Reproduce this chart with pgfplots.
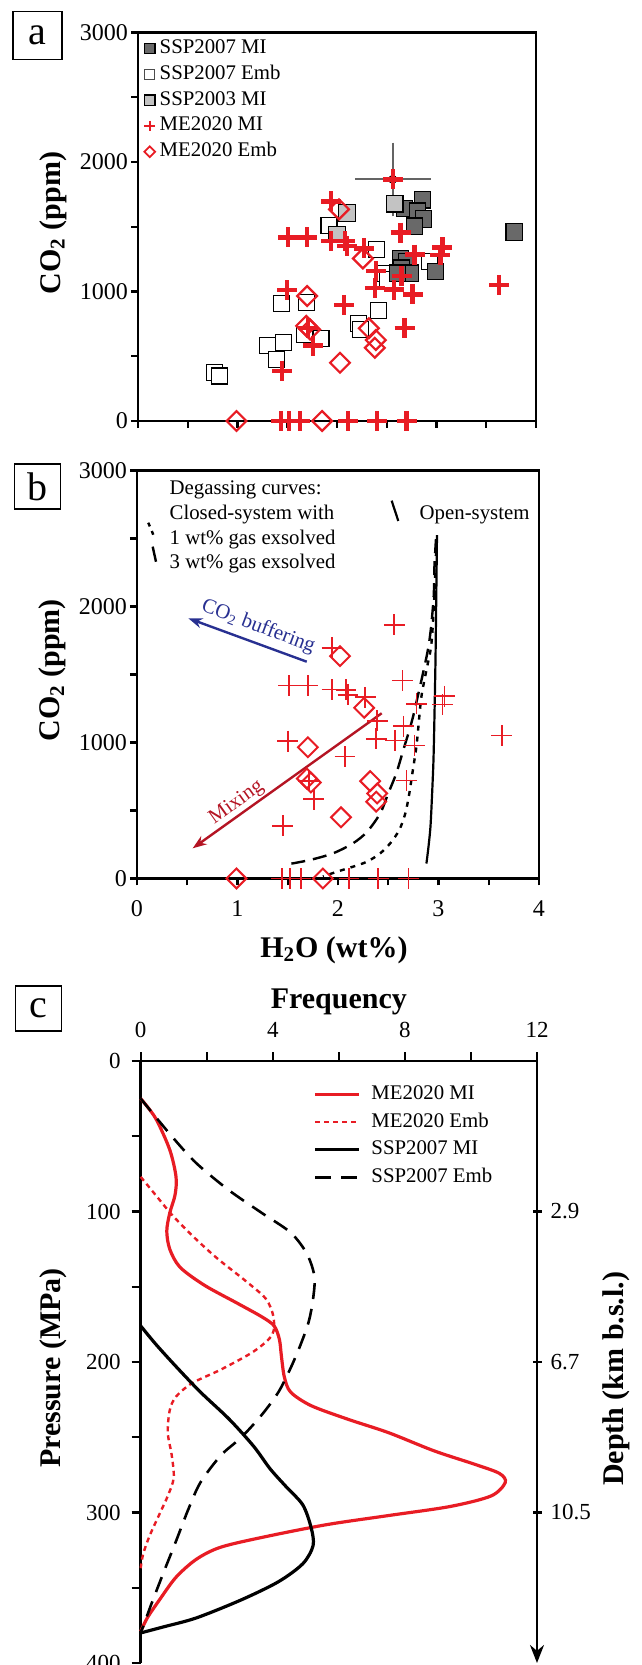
\documentclass[border=0pt]{standalone}
\usepackage{fontspec}
\setmainfont{Liberation Serif}
\usepackage{pgfplots}
\pgfplotsset{compat=1.18}
\usetikzlibrary{arrows.meta}
\definecolor{mred}{RGB}{232,28,36}
\definecolor{navyb}{RGB}{40,48,145}
\definecolor{darkr}{RGB}{180,20,35}
\definecolor{dgray}{RGB}{105,105,105}
\definecolor{lgray}{RGB}{195,195,195}
\definecolor{errgray}{RGB}{100,100,100}

\pgfplotstableread{
x y
2.56 1866
1.94 1696
1.51 1418
1.70 1418
1.94 1390
2.08 1388
2.10 1350
2.27 1333
2.64 1455
2.78 1285
3.06 1340
3.04 1280
2.39 1160
2.65 1120
2.38 1027
2.57 1015
2.76 977
1.50 1010
2.07 897
3.63 1052
2.68 720
1.71 718
1.76 583
1.45 388
1.44 0
1.52 0
1.63 0
2.11 0
2.40 0
2.70 0
}\memi

\pgfplotstableread{
x y
2.02 1635
2.26 1255
1.70 965
1.69 735
1.73 706
2.32 716
2.39 625
2.38 565
2.03 450
0.99 0
1.85 0
}\meemb

\pgfplotstableread{
x y
2.86 1709
2.68 1640
2.81 1620
2.87 1560
2.78 1505
3.78 1459
2.64 1255
2.70 1230
2.65 1180
2.74 1141
2.61 1141
2.99 1155
}\sspmi

\pgfplotstableread{
x y
1.92 1508
2.40 1322
2.93 1232
2.49 1142
2.51 1095
1.44 910
1.69 915
2.42 851
2.22 755
2.24 709
1.67 665
1.84 639
1.30 580
1.46 606
1.39 477
0.77 374
0.82 348
}\sspemb

\pgfplotstableread{
x y
2.58 1678
2.10 1606
2.00 1440
}\sspthree

\pgfplotsset{
  base/.style={scale only axis, anchor=south west, tick align=outside,
    axis line style={line width=1.2pt},
    every tick/.style={black, line width=1.1pt},
    major tick length=3.5pt,
    tick label style={font=\fontsize{12}{12}\selectfont},
    label style={font=\bfseries\fontsize{15}{15}\selectfont},
    clip=false},
}

\begin{document}
\begin{tikzpicture}[x=1pt,y=1pt]
\path[use as bounding box] (0,0) rectangle (321,832.5);

% panel labels
\node[draw, line width=0.7pt, minimum width=24.5pt, minimum height=24pt, inner sep=0pt, font=\fontsize{20}{20}\selectfont] at (18.75,814.75) {a};
\node[draw, line width=0.7pt, minimum width=23pt, minimum height=22.5pt, inner sep=0pt, font=\fontsize{20}{20}\selectfont] at (18.75,589.25) {b};
\node[draw, line width=0.7pt, minimum width=23pt, minimum height=22.5pt, inner sep=0pt, font=\fontsize{20}{20}\selectfont] at (19.35,328.25) {c};

% ---------------- panel a
\begin{axis}[base, at={(69pt,622pt)}, width=199pt, height=194.2pt,
  xmin=0, xmax=4, ymin=0, ymax=3000,
  xtick={0,0.5,...,4}, xticklabels={,,,,,,,,},
  ytick={0,500,...,3000}, yticklabels={0,,1000,,2000,,3000},
  tick pos=left, yticklabel style={xshift=2pt},
  ylabel={CO\textsubscript{2} (ppm)},
  ylabel style={at={(axis description cs:-0.2136,0.51)}, anchor=center},
  legend style={at={(0.0149,0.9856)}, anchor=north west, draw=none, fill=none,
    inner sep=0pt, row sep=2.9pt, font=\fontsize{10.4}{12}\selectfont,
    nodes={inner sep=0pt, text height=7.5pt, text depth=2.5pt},
    /tikz/every odd column/.style={column sep=2.3pt}},
  legend cell align=left]
\addplot[forget plot, only marks, mark=none,
  error bars/.cd, x dir=both, x explicit, y dir=both, y explicit,
  error bar style={color=errgray, line width=1pt},
  error mark options={errgray, mark size=4pt, line width=1pt}]
  coordinates {(2.56,1866) +- (0.30,223)};
\addplot[forget plot, only marks, mark=square*, mark size=4pt, mark options={fill=white, draw=black, line width=0.6pt}] table {\sspemb};
\addplot[forget plot, only marks, mark=square*, mark size=4.1pt, mark options={fill=dgray, draw=black, line width=0.6pt}] table {\sspmi};
\addplot[forget plot, only marks, mark=square*, mark size=4.1pt, mark options={fill=lgray, draw=black, line width=0.6pt}] table {\sspthree};
\addplot[forget plot, only marks, mark=square, mark size=3.5pt, mark options={draw=mred, line width=1.1pt, rotate=45}] table {\meemb};
\addplot[forget plot, only marks, mark=+, mark size=5pt, mark options={draw=mred, line width=2.2pt}] table {\memi};
\addlegendimage{only marks, mark=square*, mark size=2.6pt, mark options={fill=dgray, draw=black, line width=0.6pt}}
\addlegendentry{SSP2007 MI}
\addlegendimage{only marks, mark=square*, mark size=2.4pt, mark options={fill=white, draw=black!70, line width=0.5pt}}
\addlegendentry{SSP2007 Emb}
\addlegendimage{only marks, mark=square*, mark size=2.6pt, mark options={fill=lgray, draw=black, line width=0.6pt}}
\addlegendentry{SSP2003 MI}
\addlegendimage{only marks, mark=+, mark size=2.7pt, mark options={draw=mred, line width=1pt}}
\addlegendentry{ME2020 MI}
\addlegendimage{only marks, mark=square, mark size=1.9pt, mark options={draw=mred, line width=0.9pt, rotate=45}}
\addlegendentry{ME2020 Emb}
\end{axis}

% ---------------- panel b
\begin{axis}[base, at={(68.5pt,393.25pt)}, width=201pt, height=204pt,
  xmin=0, xmax=4, ymin=0, ymax=3000,
  xtick={0,0.5,...,4}, xticklabels={0,,1,,2,,3,,4},
  ytick={0,500,...,3000}, yticklabels={0,,1000,,2000,,3000},
  tick pos=left, yticklabel style={xshift=2pt}, xticklabel style={yshift=-4pt},
  ylabel={CO\textsubscript{2} (ppm)},
  ylabel style={at={(axis description cs:-0.2100,0.51)}, anchor=center},
  xlabel={H\textsubscript{2}O (wt\%)},
  xlabel style={at={(axis description cs:0.49,-0.175)}, anchor=center}]
% degassing curves
\addplot[black, line width=1.1pt, smooth] coordinates {(2.985,2525) (2.98,2200) (2.975,1900) (2.97,1600) (2.96,1200) (2.95,870) (2.935,600) (2.92,380) (2.90,230) (2.88,110)};
\addplot[black, line width=1.2pt, smooth, dash pattern=on 2.5pt off 3pt] coordinates {(2.98,2490) (2.96,2100) (2.93,1729) (2.88,1533) (2.83,1337) (2.80,1116) (2.78,969) (2.74,773) (2.71,626) (2.67,479) (2.61,357) (2.52,259) (2.42,185) (2.29,124) (2.15,87) (1.99,50) (1.85,15)};
\addplot[black, line width=1.2pt, smooth, dash pattern=on 7pt off 4pt] coordinates {(2.975,2495) (2.96,2300) (2.95,2048) (2.90,1704) (2.77,1263) (2.72,1116) (2.65,945) (2.58,773) (2.50,626) (2.42,479) (2.29,344) (2.15,259) (1.95,185) (1.72,136) (1.46,99)};
% legend samples
\addplot[black, line width=1.1pt] coordinates {(2.534,2778) (2.600,2629)};
\addplot[black, line width=1.2pt, dash pattern=on 2pt off 2.5pt] coordinates {(0.112,2616) (0.145,2560) (0.179,2494)};
\addplot[black, line width=1.2pt] coordinates {(0.156,2440) (0.189,2329)};
% arrows
\addplot[navyb, line width=1.2pt, -{Stealth[length=7pt,width=5pt]}] coordinates {(1.689,1594) (0.511,1913)};
\addplot[darkr, line width=1.2pt, -{Stealth[length=7pt,width=5pt]}] coordinates {(2.435,1215) (0.554,222)};
% data
\addplot[only marks, mark=square, mark size=3.5pt, mark options={draw=mred, line width=1pt, rotate=45}] table {\meemb};
\addplot[only marks, mark=+, mark size=5.2pt, mark options={draw=mred, line width=0.8pt}] table {\memi};
% texts
\begin{scope}[every node/.style={font=\fontsize{10.4}{12}\selectfont, inner sep=0pt}]
\node[anchor=base west] at (axis cs:0.321,2820) {Degassing curves:};
\node[anchor=base west] at (axis cs:0.321,2641) {Closed-system with};
\node[anchor=base west] at (axis cs:0.321,2457) {1 wt\% gas exsolved};
\node[anchor=base west] at (axis cs:0.321,2276) {3 wt\% gas exsolved};
\node[anchor=base west] at (axis cs:2.809,2641) {Open-system};
\node[text=navyb, rotate=-20.5] at (axis cs:1.207,1851) {CO\textsubscript{2} buffering};
\node[text=darkr, rotate=35.5] at (axis cs:0.992,557) {Mixing};
\end{scope}
\end{axis}

% ---------------- panel c
\begin{axis}[base, at={(70.35pt,1pt)}, width=198.15pt, height=301pt,
  xmin=0, xmax=12, ymin=0, ymax=400, y dir=reverse,
  axis x line*=top, axis y line*=left,
  major tick length=4.5pt,
  tick label style={font=\fontsize{11.5}{11.5}\selectfont},
  xtick={0,2,...,12}, xticklabels={0,,4,,8,,12},
  ytick={0,50,...,400}, yticklabels={0,,100,,200,,300,,400},
  xticklabel style={yshift=3.5pt}, yticklabel style={xshift=-2pt},
  xlabel={Frequency},
  xlabel style={at={(axis description cs:0.5,1.098)}, anchor=center},
  ylabel={Pressure (MPa)},
  ylabel style={at={(axis description cs:-0.2213,0.49)}, anchor=center},
  legend image code/.code={\draw[#1] (0pt,0pt) -- (21.7pt,0pt);},
  legend style={at={(0.436,0.9618)}, anchor=north west, draw=none, fill=none,
    inner sep=0pt, row sep=3.8pt, font=\fontsize{10.4}{12}\selectfont,
    nodes={inner sep=0pt, text height=7.5pt, text depth=2.5pt},
    /tikz/every odd column/.style={column sep=5.5pt}},
  legend cell align=left]
\addplot[mred, line width=1.6pt, smooth, tension=0.5] coordinates {(0,25) (0.45,38) (0.88,59) (1.07,77) (1.04,89) (0.88,101) (0.79,113) (0.88,125) (1.19,137) (1.93,149) (2.93,161) (3.67,170) (4.04,176) (4.20,185) (4.26,196) (4.35,210) (4.54,220) (5.16,229) (6.27,238) (7.51,247) (8.88,259) (10.12,268) (10.86,274) (11.04,280) (10.61,289) (9.37,296) (7.51,302) (5.65,308) (3.79,316) (2.43,323) (1.69,331) (1.07,343) (0.57,358) (0.20,370) (0,379)};
\addlegendentry{ME2020 MI}
\addplot[mred, line width=1.2pt, smooth, tension=0.5, dash pattern=on 2.5pt off 2pt] coordinates {(0,77) (0.45,89) (0.94,102) (1.56,116) (2.31,131) (3.17,146) (3.79,158) (4.02,170) (3.98,182) (3.42,193) (2.43,205) (1.56,214) (1.07,223) (0.88,232) (0.82,247) (0.94,262) (1.00,277) (0.82,289) (0.57,301) (0.26,316) (0.07,328) (0,337)};
\addlegendentry{ME2020 Emb}
\addplot[black, line width=1.6pt, smooth, tension=0.5] coordinates {(0,176) (0.45,188) (1.07,203) (1.81,220) (2.68,238) (3.42,256) (3.92,271) (4.41,283) (4.91,295) (5.16,310) (5.22,322) (4.91,334) (4.17,346) (3.05,358) (1.69,370) (0.69,376) (0,380)};
\addlegendentry{SSP2007 MI}
\addplot[black, line width=1.3pt, smooth, tension=0.5, dash pattern=on 8pt off 5pt] coordinates {(0,25) (0.94,50) (1.69,68) (2.68,86) (3.67,101) (4.54,114) (5.03,128) (5.26,143) (5.22,158) (5.09,173) (4.85,188) (4.54,204) (4.17,220) (3.67,235) (3.05,250) (2.43,262) (1.81,280) (1.44,298) (1.07,319) (0.69,340) (0.32,361) (0.07,376) (0,379)};
\addlegendentry{SSP2007 Emb}
\end{axis}
\begin{axis}[base, at={(70.35pt,1pt)}, width=198.15pt, height=301pt,
  xmin=0, xmax=12, ymin=0, ymax=400, y dir=reverse,
  axis x line=none, axis y line=right,
  axis line style={line width=1.2pt, -{Stealth[length=9pt,width=7pt]}},
  major tick length=4.5pt,
  tick label style={font=\fontsize{11.5}{11.5}\selectfont},
  xtick=\empty, ytick={100,200,300}, yticklabels={2.9,6.7,10.5},
  yticklabel style={xshift=1pt},
  ylabel={Depth (km b.s.l.)},
  ylabel style={at={(axis description cs:1.2011,0.472)}, anchor=center, font=\bfseries\fontsize{15}{15}\selectfont}]
\addplot[draw=none] coordinates {(0,0) (12,400)};
\end{axis}
\end{tikzpicture}
\end{document}
